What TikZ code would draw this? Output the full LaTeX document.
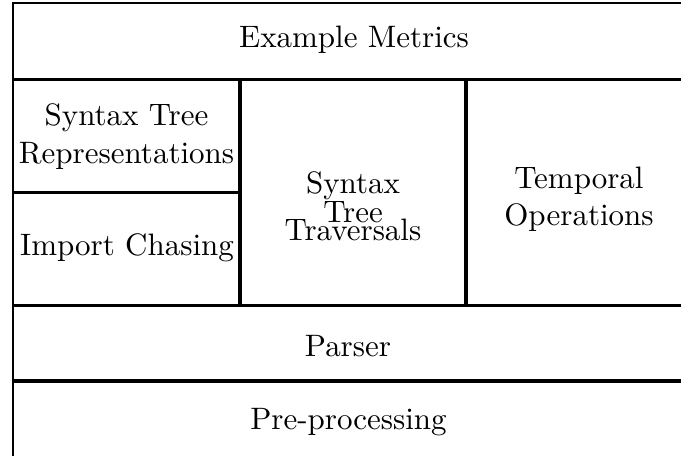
\documentclass[tikz,border=0pt]{standalone}
\begin{document}
\begin{tikzpicture}[x=0.3226pt,y=-0.3226pt,
  outerline/.style={line width=0.7pt},
  innerline/.style={line width=1pt},
  lbl/.style={align=center, inner sep=0pt}]
\useasboundingbox (0,0) rectangle (681,456);
% frame lines
\draw[outerline] (681,3) -- (13,3) -- (13,456);
\draw[innerline] (13,79.5) -- (681,79.5);
\draw[innerline] (240,79.5) -- (240,305.5);
\draw[innerline] (466,79.5) -- (466,305.5);
\draw[innerline] (13,192.5) -- (240,192.5);
\draw[innerline] (13,305.5) -- (681,305.5);
\draw[innerline] (13,381) -- (681,381);
% labels
\node[lbl, anchor=base] (metrics) at (354,47) {Example Metrics};
\node[lbl, anchor=north] (repr) at (126.5,103.5) {Syntax Tree\\Representations};
\node[lbl, anchor=base] (import) at (127,255) {Import Chasing};
\node[lbl, anchor=base] (trav1) at (353,193) {Syntax};
\node[lbl, anchor=base] (trav2) at (353,222.5) {Tree};
\node[lbl, anchor=base] (trav3) at (353,240.5) {Traversals};
\node[lbl, anchor=north] (temp) at (579,166.5) {Temporal\\Operations};
\node[lbl, anchor=base] (parser) at (348,356) {Parser};
\node[lbl, anchor=base] (pre) at (348.5,429) {Pre-processing};
\end{tikzpicture}
\end{document}
